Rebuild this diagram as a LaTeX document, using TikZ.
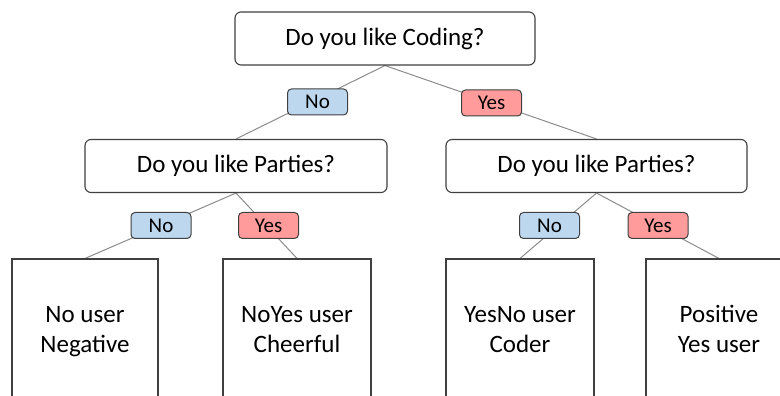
\documentclass[tikz,border=0pt]{standalone}
\usepackage{fontspec}
\setmainfont{Carlito}
\usetikzlibrary{backgrounds}
\definecolor{noblue}{HTML}{BDD7EE}
\definecolor{yesred}{HTML}{FF9B9B}
\definecolor{edgegray}{HTML}{404040}
\definecolor{linegray}{HTML}{8C8C8C}
\begin{document}
\begin{tikzpicture}[x=1pt,y=1pt,
  qbox/.style={draw=edgegray, line width=1.1pt, rounded corners=6pt, fill=white, inner sep=0pt, minimum height=53pt, font=\fontsize{25}{30}\selectfont},
  leafbox/.style={draw=edgegray, line width=1.1pt, fill=white, inner sep=0pt, minimum height=146pt, align=center, font=\fontsize{25}{30}\selectfont},
  nolab/.style={draw=edgegray, line width=1pt, rounded corners=4pt, fill=noblue, inner sep=0pt, minimum width=60pt, minimum height=26pt, font=\fontsize{21}{25}\selectfont},
  yeslab/.style={draw=edgegray, line width=1pt, rounded corners=4pt, fill=yesred, inner sep=0pt, minimum width=60pt, minimum height=26pt, font=\fontsize{21}{25}\selectfont},
  conn/.style={draw=linegray, line width=1pt}]
\clip (0,0) rectangle (780,396);
% question boxes
\node[qbox, minimum width=300pt] (top) at (385,357.5) {Do you like Coding?};
\node[qbox, minimum width=302pt] (pl) at (236,230) {Do you like Parties?};
\node[qbox, minimum width=301pt] (pr) at (596.5,230) {Do you like Parties?};
% leaves
\node[leafbox, minimum width=146pt] (l1) at (85,64) {\strut No user\\\strut Negative};
\node[leafbox, minimum width=148pt] (l2) at (297,64) {\strut NoYes user\\\strut Cheerful};
\node[leafbox, minimum width=148pt] (l3) at (520,64) {\strut YesNo user\\\strut Coder};
\node[leafbox, minimum width=146pt] (l4) at (719,64) {\strut Positive\\\strut Yes user};
% labels
\node[nolab] (n0) at (317.5,294) {No};
\node[yeslab] (y0) at (491.5,293) {Yes};
\node[nolab] (n1) at (161,170.5) {No};
\node[yeslab] (y1) at (268.5,170.5) {Yes};
\node[nolab] (n2) at (549.5,170.5) {No};
\node[yeslab] (y2) at (658,170.5) {Yes};
\begin{pgfonlayer}{background}
\fill[white] (0,0) rectangle (780,396);
\draw[conn] (top.south) -- (pl.north);
\draw[conn] (top.south) -- (pr.north);
\draw[conn] (pl.south) -- (l1.north);
\draw[conn] (pl.south) -- (l2.north);
\draw[conn] (pr.south) -- (l3.north);
\draw[conn] (pr.south) -- (l4.north);
\end{pgfonlayer}
\end{tikzpicture}
\end{document}
